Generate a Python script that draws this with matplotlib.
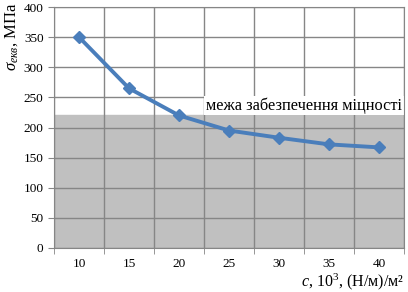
import numpy as np
import matplotlib
matplotlib.use('Agg')
import matplotlib.pyplot as plt

plt.rcParams['font.family'] = ['Liberation Serif', 'DejaVu Serif']
plt.rcParams['mathtext.fontset'] = 'custom'
plt.rcParams['mathtext.rm'] = 'Liberation Serif'
plt.rcParams['mathtext.it'] = 'Liberation Serif:italic'

c_labels = ['10', '15', '20', '25', '30', '35', '40']
sigma = [350, 265, 220, 195, 183, 172, 167]
limit = 220
y_ticks = [0, 50, 100, 150, 200, 250, 300, 350, 400]

fig = plt.figure(figsize=(4.08, 2.92), dpi=100)
ax = fig.add_axes([0.1324, 0.1507, 0.8578, 0.8253])

x = np.arange(len(c_labels))
ax.set_xlim(-0.5, len(c_labels) - 0.5)
ax.set_ylim(0, 400)

ax.axhspan(0, limit, color='#c0c0c0', zorder=0)
for b in np.arange(-0.5, len(c_labels), 1.0):
    ax.axvline(b, color='#868686', lw=1, zorder=1)
for t in y_ticks:
    ax.axhline(t, color='#868686', lw=1, zorder=1)

ax.plot(x, sigma, color='#4a7ebb', lw=2.8, marker='D', ms=6, zorder=3)

ax.text(len(c_labels) - 0.54, limit + 3, 'межа забезпечення міцності',
        ha='right', va='bottom', fontsize=11.8, zorder=2,
        bbox=dict(facecolor='white', edgecolor='none', pad=1.2))

ax.set_xticks(x)
ax.set_xticklabels(c_labels, fontsize=9.5)
ax.set_xticks(np.arange(-0.5, len(c_labels), 1.0), minor=True)
ax.tick_params(axis='x', which='major', length=0, pad=7)
ax.tick_params(axis='x', which='minor', length=4, color='#868686')
ax.set_yticks(y_ticks)
ax.tick_params(axis='y', labelsize=9.5, length=4, color='#868686')

for s in ax.spines.values():
    s.set_color('#868686')

fig.text(0.99, 0.0, r'$c$, 10$^3$, (Н/м)/м²', ha='right', va='bottom', fontsize=11.5)
fig.text(0.008, 0.99, r'$\sigma_{екв}$, МПа', rotation=90, ha='left', va='top', fontsize=12)

fig.savefig('out.png', dpi=100)
